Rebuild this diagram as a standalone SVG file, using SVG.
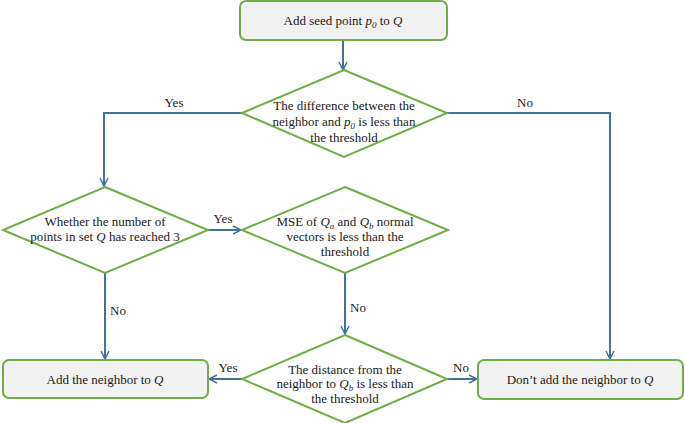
<svg xmlns="http://www.w3.org/2000/svg" width="685" height="423" viewBox="0 0 685 423">
<defs>
<marker id="arr" viewBox="0 0 10 10" refX="9" refY="5" markerWidth="10" markerHeight="10" markerUnits="userSpaceOnUse" orient="auto">
<path d="M1,1 L9,5 L1,9" fill="none" stroke="#41719c" stroke-width="1.5"/>
</marker>
</defs>
<g id="connectors">
<g fill="none" stroke="#41719c" stroke-width="2" marker-end="url(#arr)">
<path d="M343,40 L343,70"/>
<path d="M242,113 L104,113 L104,186"/>
<path d="M447,113 L610,113 L610,359"/>
<path d="M208,230 L241,230"/>
<path d="M105,273 L105,359"/>
<path d="M345,273 L345,334"/>
<path d="M242,379 L209,379"/>
<path d="M447,379 L477,379"/>
</g>
<text font-family="Liberation Serif" font-size="13" fill="#1a1a1a" text-anchor="middle" x="174" y="107">Yes</text>
<text font-family="Liberation Serif" font-size="13" fill="#1a1a1a" text-anchor="middle" x="525" y="107">No</text>
<text font-family="Liberation Serif" font-size="13" fill="#1a1a1a" text-anchor="middle" x="223" y="223">Yes</text>
<text font-family="Liberation Serif" font-size="13" fill="#1a1a1a" text-anchor="middle" x="118" y="315">No</text>
<text font-family="Liberation Serif" font-size="13" fill="#1a1a1a" text-anchor="middle" x="358" y="312">No</text>
<text font-family="Liberation Serif" font-size="13" fill="#1a1a1a" text-anchor="middle" x="228" y="372">Yes</text>
<text font-family="Liberation Serif" font-size="13" fill="#1a1a1a" text-anchor="middle" x="461" y="372">No</text>
</g>
<g id="start">
<rect fill="#f2f2f2" stroke="#70ad47" stroke-width="2" x="240" y="1" width="207" height="39" rx="6"/>
<text font-family="Liberation Serif" font-size="13" fill="#1a1a1a" text-anchor="middle" x="343" y="25">Add seed point <tspan font-style="italic">p</tspan><tspan font-style="italic" font-size="9" baseline-shift="-3">0</tspan> to <tspan font-style="italic">Q</tspan></text>
</g>
<g id="d1">
<polygon fill="#ffffff" stroke="#70ad47" stroke-width="2" points="344,70 447,113 344,157 242,113"/>
<text font-family="Liberation Serif" font-size="13" fill="#1a1a1a" text-anchor="middle" x="344" y="110">The difference between the</text>
<text font-family="Liberation Serif" font-size="13" fill="#1a1a1a" text-anchor="middle" x="344" y="126">neighbor and  <tspan font-style="italic">p</tspan><tspan font-style="italic" font-size="9" baseline-shift="-3">0</tspan> is less than</text>
<text font-family="Liberation Serif" font-size="13" fill="#1a1a1a" text-anchor="middle" x="344" y="142">the threshold</text>
</g>
<g id="d2">
<polygon fill="#ffffff" stroke="#70ad47" stroke-width="2" points="105,187 208,230 105,273 3,230"/>
<text font-family="Liberation Serif" font-size="13" fill="#1a1a1a" text-anchor="middle" x="105" y="226">Whether the number of</text>
<text font-family="Liberation Serif" font-size="13" fill="#1a1a1a" text-anchor="middle" x="105" y="241">points in set <tspan font-style="italic">Q</tspan> has reached 3</text>
</g>
<g id="d3">
<polygon fill="#ffffff" stroke="#70ad47" stroke-width="2" points="345,187 448,230 345,273 242,230"/>
<text font-family="Liberation Serif" font-size="13" fill="#1a1a1a" text-anchor="middle" x="345" y="226">MSE of <tspan font-style="italic">Q</tspan><tspan font-style="italic" font-size="9" baseline-shift="-3">a</tspan> and <tspan font-style="italic">Q</tspan><tspan font-style="italic" font-size="9" baseline-shift="-3">b</tspan> normal</text>
<text font-family="Liberation Serif" font-size="13" fill="#1a1a1a" text-anchor="middle" x="345" y="241">vectors is less than  the</text>
<text font-family="Liberation Serif" font-size="13" fill="#1a1a1a" text-anchor="middle" x="345" y="256">threshold</text>
</g>
<g id="d4">
<polygon fill="#ffffff" stroke="#70ad47" stroke-width="2" points="345,335 447,379 345,423 242,379"/>
<text font-family="Liberation Serif" font-size="13" fill="#1a1a1a" text-anchor="middle" x="345" y="374">The distance from the</text>
<text font-family="Liberation Serif" font-size="13" fill="#1a1a1a" text-anchor="middle" x="345" y="388">neighbor to <tspan font-style="italic">Q</tspan><tspan font-style="italic" font-size="9" baseline-shift="-3">b</tspan> is less than</text>
<text font-family="Liberation Serif" font-size="13" fill="#1a1a1a" text-anchor="middle" x="345" y="403">the threshold</text>
</g>
<g id="add">
<rect fill="#f2f2f2" stroke="#70ad47" stroke-width="2" x="3" y="360" width="205" height="38" rx="6"/>
<text font-family="Liberation Serif" font-size="13" fill="#1a1a1a" text-anchor="middle" x="105" y="384">Add the neighbor to <tspan font-style="italic">Q</tspan></text>
</g>
<g id="noadd">
<rect fill="#f2f2f2" stroke="#70ad47" stroke-width="2" x="478" y="360" width="205" height="39" rx="6"/>
<text font-family="Liberation Serif" font-size="13" fill="#1a1a1a" text-anchor="middle" x="580" y="384">Don’t add the neighbor to <tspan font-style="italic">Q</tspan></text>
</g>
</svg>
